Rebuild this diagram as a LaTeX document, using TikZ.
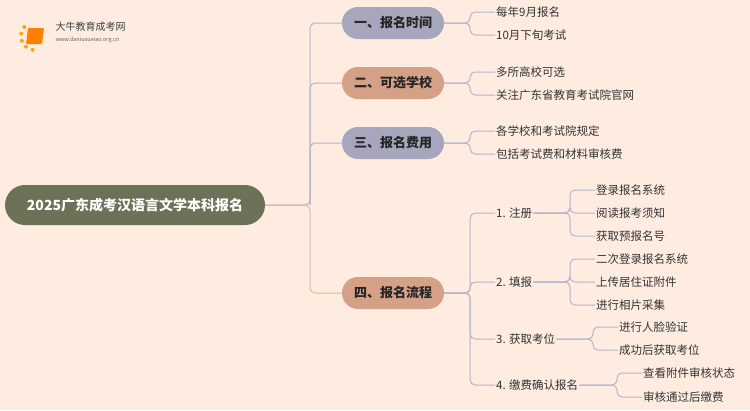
\documentclass[tikz,border=0pt]{standalone}
\usepackage{fontspec}
\setmainfont{Noto Sans CJK SC}
\definecolor{bg}{HTML}{FDECDF}
\definecolor{rootc}{HTML}{6B7257}
\definecolor{lav}{HTML}{A6A6BD}
\definecolor{tan}{HTML}{D4A086}
\definecolor{lnk}{HTML}{B4B4CC}
\definecolor{tlnk}{HTML}{E2B79F}
\begin{document}
\begin{tikzpicture}[x=1pt,y=-1pt,
  l1/.style={rounded corners=16pt,minimum width=102pt,minimum height=32pt,font=\fontsize{13}{15}\selectfont\bfseries,text=black!85},
  leaf/.style={anchor=west,inner sep=1pt,font=\fontsize{11.5}{13}\selectfont,text=black!80},
  con/.style={draw=lnk,line width=1pt,rounded corners=5pt},
  tcon/.style={draw=tlnk,line width=1pt,rounded corners=5pt}]
\fill[bg] (0,0) rectangle (750,410);
\useasboundingbox (0,0) rectangle (750,410);
% logo
\foreach \a in {100,130,160,190,220}{\fill[orange!70!yellow] (35,36)++(\a:14) circle (2pt);}
\fill[orange,rounded corners=1pt] (28,28) -- (44,28) -- (42,44) -- (26,44) -- cycle;
\node[anchor=west,font=\fontsize{10}{11}\selectfont,text=black!75] (logo) at (52,27) {大牛教育成考网};
\node[anchor=west,font=\fontsize{5.5}{6}\selectfont,text=black!60] (url) at (52,40) {www.daniuxueiao.org.cn};
% root
\node[fill=rootc,rounded corners=20pt,minimum width=260pt,minimum height=40pt,text=white,font=\fontsize{14}{16}\selectfont\bfseries] (root) at (135,205) {2025广东成考汉语言文学本科报名};
% level1
\node[l1,fill=lav] (n1) at (393,23) {一、报名时间};
\node[l1,fill=tan] (n2) at (393,83) {二、可选学校};
\node[l1,fill=lav] (n3) at (393,143) {三、报名费用};
\node[l1,fill=tan] (n4) at (393,293) {四、报名流程};
\draw[con] (root.east) -- (310,205) |- (n1.west);
\draw[con] (310,205) |- (n2.west);
\draw[con] (310,205) |- (n3.west);
\draw[tcon] (root.east) -- (310,205) |- (n4.west);
% leaves
\node[leaf] (a1) at (495,12) {每年9月报名};
\node[leaf] (a2) at (495,35) {10月下旬考试};
\node[leaf] (b1) at (495,72) {多所高校可选};
\node[leaf] (b2) at (495,95) {关注广东省教育考试院官网};
\node[leaf] (c1) at (495,131) {各学校和考试院规定};
\node[leaf] (c2) at (495,154) {包括考试费和材料审核费};
\foreach \p/\c in {n1/a1,n1/a2,n2/b1,n2/b2,n3/c1,n3/c2}{\draw[con] (\p.east) -- ++(26,0) |- (\c.west);}
\node[leaf] (d1) at (495,213) {1. 注册};
\node[leaf] (d2) at (495,282) {2. 填报};
\node[leaf] (d3) at (495,339) {3. 获取考位};
\node[leaf] (d4) at (495,385) {4. 缴费确认报名};
\foreach \c in {d1,d2,d3,d4}{\draw[con] (n4.east) -- ++(26,0) |- (\c.west);}
\node[leaf] (e1) at (595,190) {登录报名系统};
\node[leaf] (e2) at (595,213) {阅读报考须知};
\node[leaf] (e3) at (595,236) {获取预报名号};
\node[leaf] (f1) at (595,259) {二次登录报名系统};
\node[leaf] (f2) at (595,282) {上传居住证附件};
\node[leaf] (f3) at (595,305) {进行相片采集};
\node[leaf] (g1) at (618,327) {进行人脸验证};
\node[leaf] (g2) at (618,350) {成功后获取考位};
\node[leaf] (h1) at (642,373) {查看附件审核状态};
\node[leaf] (h2) at (642,397) {审核通过后缴费};
\foreach \c in {e1,e2,e3}{\draw[con] (d1.east) -- (570,213) |- (\c.west);}
\foreach \c in {f1,f2,f3}{\draw[con] (d2.east) -- (570,282) |- (\c.west);}
\foreach \c in {g1,g2}{\draw[con] (d3.east) -- (593,339) |- (\c.west);}
\foreach \c in {h1,h2}{\draw[con] (d4.east) -- (617,385) |- (\c.west);}
\end{tikzpicture}
\end{document}
